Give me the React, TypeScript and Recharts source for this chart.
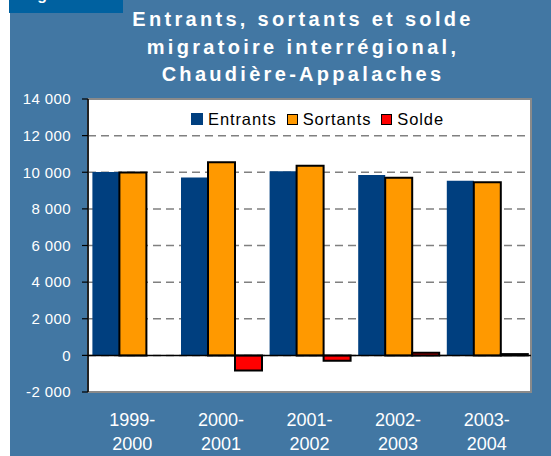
import React from "react";
import { Bar, BarChart, CartesianGrid, Legend, ReferenceArea, ReferenceLine, XAxis, YAxis } from "recharts";

const PERIODS = ["1999-2000", "2000-2001", "2001-2002", "2002-2003", "2003-2004"];
const ENTRANTS = [10010, 9720, 10050, 9850, 9530];
const SORTANTS = [9990, 10540, 10350, 9700, 9460];
const SOLDE = [0, -820, -300, 150, 70];
const Y_TICKS = [-2000, 0, 2000, 4000, 6000, 8000, 10000, 12000, 14000];
const TITLE = ["Entrants, sortants et solde", "migratoire interrégional,", "Chaudière-Appalaches"];

const SERIES = [
  { key: "entrants", label: "Entrants", fill: "#003f7f", stroke: "none" },
  { key: "sortants", label: "Sortants", fill: "#ff9900", stroke: "#000" },
  { key: "solde", label: "Solde", fill: "#ff0000", stroke: "#000" },
] as const;

const data = PERIODS.map((period, i) => ({
  period,
  entrants: ENTRANTS[i],
  sortants: SORTANTS[i],
  solde: SOLDE[i],
}));

const BG = "#4277a3";
const FONT = "'Liberation Sans', Arial, sans-serif";

function formatThousands(v: number) {
  const abs = Math.abs(v);
  const s = abs >= 1000 ? `${Math.floor(abs / 1000)} ${String(abs % 1000).padStart(3, "0")}` : String(abs);
  return v < 0 ? `-${s}` : s;
}

function PeriodTick({ x, y, payload }: { x?: number; y?: number; payload?: { value: string } }) {
  const [a, b] = (payload?.value ?? "").split("-");
  return (
    <text x={x} y={y} textAnchor="middle" fill="#fff" fontSize={18} fontFamily={FONT}>
      <tspan x={x} dy={34}>{a}-</tspan>
      <tspan x={x} dy={24}>{b}</tspan>
    </text>
  );
}

function LegendBox() {
  return (
    <div style={{ display: "flex", alignItems: "center", gap: 10, fontFamily: FONT, fontSize: 16.5, letterSpacing: 0.9, color: "#000", lineHeight: "18px" }}>
      {SERIES.map((s) => (
        <span key={s.key} style={{ display: "flex", alignItems: "center", gap: 5 }}>
          <span
            style={{
              width: s.stroke === "none" ? 12 : 9,
              height: s.stroke === "none" ? 12 : 9,
              background: s.fill,
              border: s.stroke === "none" ? "none" : "1.5px solid #000",
              display: "inline-block",
            }}
          />
          {s.label}
        </span>
      ))}
    </div>
  );
}

export default function App() {
  return (
    <div style={{ position: "absolute", left: 0, top: 0, width: 551, height: 456, background: "#fff", overflow: "hidden" }}>
      <div style={{ position: "absolute", left: 10, top: 0, width: 541, height: 456, background: BG }} />
      <div
        style={{
          position: "absolute",
          left: 9,
          top: 0,
          width: 114,
          height: 13,
          background: "#0061a0",
          overflow: "hidden",
        }}
      >
        <div style={{ position: "absolute", left: 14, top: -14, color: "#fff", fontFamily: FONT, fontWeight: 700, fontSize: 16 }}>
          Figure 5
        </div>
      </div>
      <div
        style={{
          position: "absolute",
          left: 62,
          top: 6,
          width: 482,
          textAlign: "center",
          color: "#fff",
          fontFamily: FONT,
          fontWeight: 700,
          fontSize: 20,
          letterSpacing: 3.3,
          lineHeight: "27.5px",
        }}
      >
        {TITLE.map((line) => (
          <div key={line}>{line}</div>
        ))}
      </div>
      <div style={{ position: "absolute", left: 0, top: 0 }}>
        <BarChart
          width={551}
          height={456}
          data={data}
          margin={{ top: 99, right: 20, bottom: 0, left: 10 }}
          barCategoryGap={4.4}
          barGap={0}
        >
          <CartesianGrid vertical={false} fill="#fff" stroke="#808080" strokeWidth={1.5} strokeDasharray="8 5" />
          <ReferenceArea y1={-2000} y2={14000} fill="none" stroke="#8a8a8a" strokeWidth={2} ifOverflow="extendDomain" />
          <XAxis
            dataKey="period"
            axisLine={false}
            tickLine={false}
            tickSize={0}
            tickMargin={0}
            height={64}
            tick={<PeriodTick />}
            interval={0}
          />
          <YAxis
            width={78}
            domain={[-2000, 14000]}
            ticks={Y_TICKS}
            interval={0}
            tickFormatter={formatThousands}
            axisLine={{ stroke: "#000", strokeWidth: 1.5 }}
            tickLine={{ stroke: "#000", strokeWidth: 1.2 }}
            tickSize={6}
            tickMargin={11}
            tick={{ fill: "#fff", fontSize: 15, fontFamily: FONT, letterSpacing: 0.4 }}
          />
          <Legend
            layout="horizontal"
            verticalAlign="middle"
            align="center"
            content={<LegendBox />}
            wrapperStyle={{ top: 110, left: 191, width: "auto" }}
          />
          {SERIES.map((s) => (
            <Bar
              key={s.key}
              dataKey={s.key}
              name={s.label}
              fill={s.fill}
              stroke={s.stroke}
              strokeWidth={s.stroke === "none" ? 0 : 2}
              isAnimationActive={false}
            />
          ))}
          <ReferenceLine y={0} stroke="#000" strokeWidth={1.5} />
        </BarChart>
      </div>
    </div>
  );
}
